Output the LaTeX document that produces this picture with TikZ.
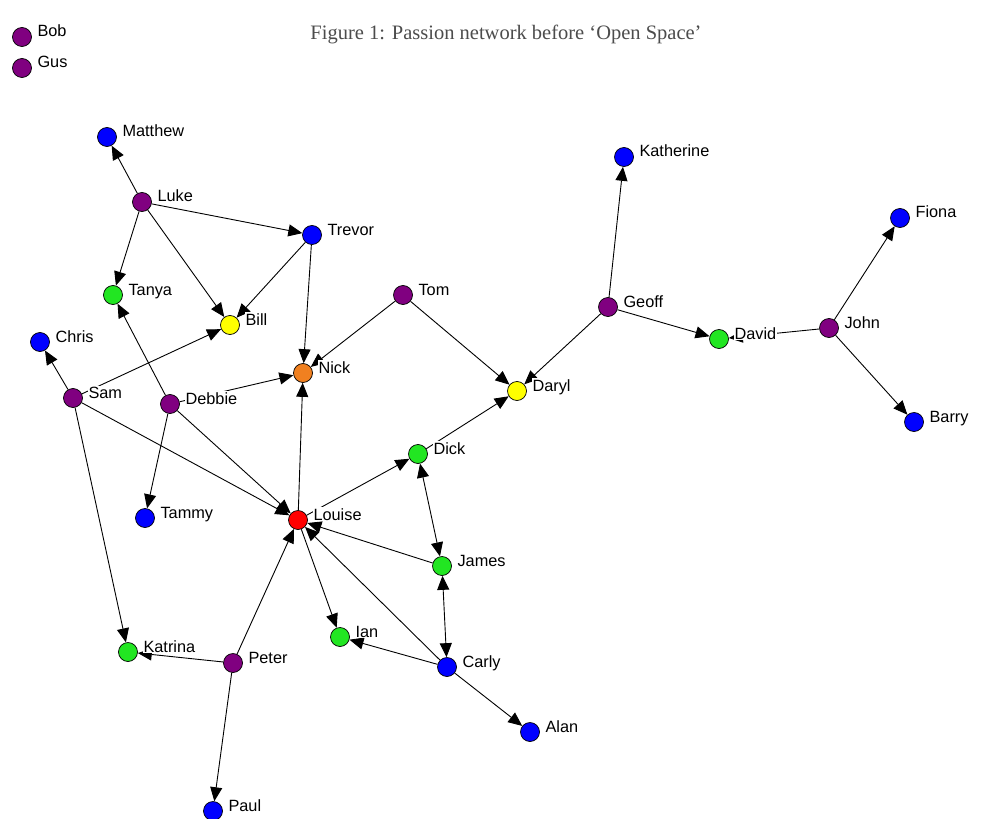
\documentclass[tikz,border=0pt]{standalone}
\usepackage{fontspec}
\setmainfont{Liberation Sans}
\newfontfamily\titlefont{Liberation Serif}
\usetikzlibrary{arrows.meta}
\pgfdeclarelayer{bg}
\pgfdeclarelayer{edges}
\pgfsetlayers{bg,edges,main}
\definecolor{vpurple}{RGB}{128,0,128}
\definecolor{vblue}{RGB}{0,0,255}
\definecolor{vgreen}{RGB}{34,230,34}
\definecolor{vyellow}{RGB}{255,255,0}
\definecolor{vorange}{RGB}{240,128,32}
\definecolor{vred}{RGB}{255,0,0}
\tikzset{
  vert/.style={circle,draw=black,line width=0.7pt,minimum size=19pt,inner sep=0pt},
  lab/.style={fill=white,inner sep=1pt,anchor=base west,xshift=4.5pt,font=\fontsize{16.3}{16.3}\selectfont},
  pu/.style={vert,fill=vpurple},
  bl/.style={vert,fill=vblue},
  gr/.style={vert,fill=vgreen},
  ye/.style={vert,fill=vyellow},
  orr/.style={vert,fill=vorange},
  re/.style={vert,fill=vred},
  tip/.tip={Triangle[length=14pt,width=12pt]},
  e/.style={line width=0.9pt,-tip},
  ee/.style={line width=0.9pt,tip-tip},
}
\begin{document}
\begin{tikzpicture}[x=1pt,y=-1pt]
\begin{pgfonlayer}{bg}
\fill[white] (0,0) rectangle (981,818);
\end{pgfonlayer}
\useasboundingbox (0,0) rectangle (981,818);
\node[font=\titlefont\fontsize{20.5}{20.5}\selectfont,anchor=base,text=black!70] (title) at (506,40) {Figure 1: Passion network before ‘Open Space’};
\node[pu,label={[lab]0:Bob}] (bob) at (22,37) {};
\node[pu,label={[lab]0:Gus}] (gus) at (22,68) {};
\node[bl,label={[lab]0:Matthew}] (matthew) at (107,137) {};
\node[pu,label={[lab]0:Luke}] (luke) at (142,202) {};
\node[bl,label={[lab]0:Trevor}] (trevor) at (312,235) {};
\node[gr,label={[lab]0:Tanya}] (tanya) at (113,295) {};
\node[ye,label={[lab]0:Bill}] (bill) at (230,325) {};
\node[pu,label={[lab]0:Tom}] (tom) at (403,295) {};
\node[orr,label={[lab]0:Nick}] (nick) at (303,373) {};
\node[ye,label={[lab]0:Daryl}] (daryl) at (517,391) {};
\node[gr,label={[lab]0:Dick}] (dick) at (418,454) {};
\node[re,label={[lab]0:Louise}] (louise) at (298,520) {};
\node[gr,label={[lab]0:James}] (james) at (442,566) {};
\node[gr,label={[lab]0:Ian}] (ian) at (340,637) {};
\node[bl,label={[lab]0:Carly}] (carly) at (447,667) {};
\node[bl,label={[lab]0:Alan}] (alan) at (530,732) {};
\node[bl,label={[lab]0:Chris}] (chris) at (40,342) {};
\node[pu,label={[lab]0:Sam}] (sam) at (73,398) {};
\node[pu,label={[lab]0:Debbie}] (debbie) at (170,404) {};
\node[bl,label={[lab]0:Tammy}] (tammy) at (145,518) {};
\node[gr,label={[lab]0:Katrina}] (katrina) at (128,652) {};
\node[pu,label={[lab]0:Peter}] (peter) at (233,663) {};
\node[bl,label={[lab]0:Paul}] (paul) at (213,811) {};
\node[bl,label={[lab]0:Katherine}] (katherine) at (624,157) {};
\node[pu,label={[lab]0:Geoff}] (geoff) at (608,307) {};
\node[gr,label={[lab]0:David}] (david) at (719,339) {};
\node[pu,label={[lab]0:John}] (john) at (829,328) {};
\node[bl,label={[lab]0:Fiona}] (fiona) at (900,218) {};
\node[bl,label={[lab]0:Barry}] (barry) at (914,422) {};
\begin{pgfonlayer}{edges}
\draw[e] (luke) -- (matthew);
\draw[e] (luke) -- (trevor);
\draw[e] (luke) -- (tanya);
\draw[e] (luke) -- (bill);
\draw[e] (trevor) -- (bill);
\draw[e] (trevor) -- (nick);
\draw[e] (tom) -- (nick);
\draw[e] (tom) -- (daryl);
\draw[e] (geoff) -- (daryl);
\draw[e] (geoff) -- (katherine);
\draw[e] (geoff) -- (david);
\draw[e] (john) -- (david);
\draw[e] (john) -- (fiona);
\draw[e] (john) -- (barry);
\draw[e] (sam) -- (chris);
\draw[e] (sam) -- (bill);
\draw[e] (sam) -- (louise);
\draw[e] (sam) -- (katrina);
\draw[e] (debbie) -- (tanya);
\draw[e] (debbie) -- (nick);
\draw[e] (debbie) -- (tammy);
\draw[e] (debbie) -- (louise);
\draw[e] (louise) -- (nick);
\draw[e] (louise) -- (dick);
\draw[e] (louise) -- (ian);
\draw[e] (dick) -- (daryl);
\draw[ee] (dick) -- (james);
\draw[e] (james) -- (louise);
\draw[ee] (james) -- (carly);
\draw[e] (carly) -- (louise);
\draw[e] (carly) -- (ian);
\draw[e] (carly) -- (alan);
\draw[e] (peter) -- (louise);
\draw[e] (peter) -- (katrina);
\draw[e] (peter) -- (paul);
\end{pgfonlayer}
\end{tikzpicture}
\end{document}
